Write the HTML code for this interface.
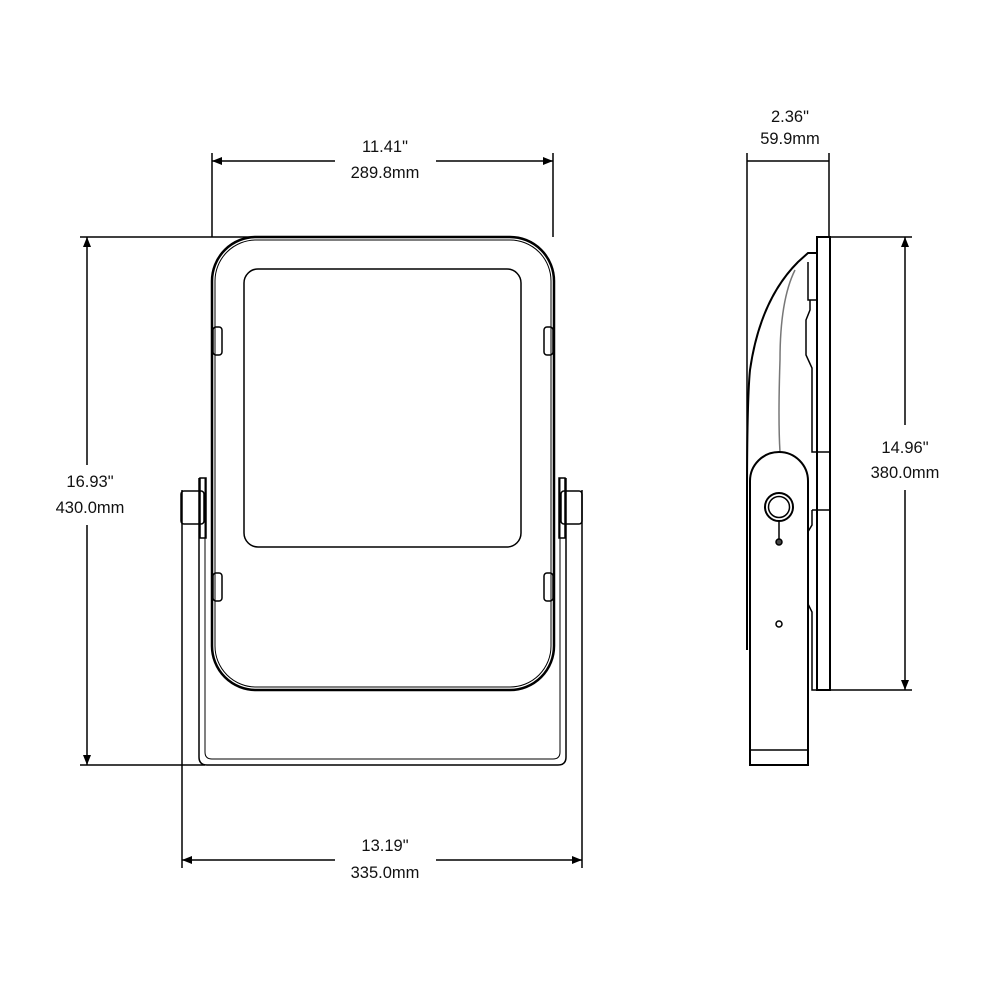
<!DOCTYPE html>
<html><head><meta charset="utf-8"><style>
html,body{margin:0;padding:0;background:#fff}
svg{display:block}
text{font-family:"Liberation Sans",sans-serif;font-size:16.5px;fill:#111;text-anchor:middle}
</style></head><body>
<svg width="992" height="992" viewBox="0 0 992 992" xmlns="http://www.w3.org/2000/svg">
<defs>
<marker id="a" viewBox="0 0 10 8" refX="10" refY="4" markerWidth="10" markerHeight="8" markerUnits="userSpaceOnUse" orient="auto-start-reverse"><path d="M0,0 L10,4 L0,8 z" fill="#000"/></marker>
</defs>
<g stroke="#000" fill="none" stroke-width="1.5">
<!-- front: dimension lines -->
<line x1="212" y1="153" x2="212" y2="237"/>
<line x1="553" y1="153" x2="553" y2="237"/>
<line x1="212" y1="161" x2="335" y2="161" marker-start="url(#a)"/>
<line x1="436" y1="161" x2="553" y2="161" marker-end="url(#a)"/>
<line x1="80" y1="237" x2="255" y2="237"/>
<line x1="80" y1="765" x2="205" y2="765"/>
<line x1="87" y1="237" x2="87" y2="465" marker-start="url(#a)"/>
<line x1="87" y1="525" x2="87" y2="765" marker-end="url(#a)"/>
<line x1="182" y1="490" x2="182" y2="868"/>
<line x1="582" y1="490" x2="582" y2="868"/>
<line x1="182" y1="860" x2="335" y2="860" marker-start="url(#a)"/>
<line x1="436" y1="860" x2="582" y2="860" marker-end="url(#a)"/>
<!-- bracket -->
<path d="M199,478 V757 Q199,765 207,765 H558 Q566,765 566,757 V478"/>
<path d="M205,478 V752 Q205,759 212,759 H553 Q560,759 560,752 V478" stroke-width="1"/>
<rect x="181" y="491" width="23" height="33" rx="3"/>
<rect x="561" y="491" width="21" height="33" rx="3"/>
<rect x="200" y="478" width="6" height="60"/>
<rect x="559" y="478" width="6" height="60"/>
<!-- housing -->
<rect x="212" y="237" width="342" height="453" rx="44" stroke-width="2.5"/>
<rect x="215" y="240" width="336" height="447" rx="41" stroke-width="1"/>
<rect x="244" y="269" width="277" height="278" rx="14" stroke-width="1.5"/>
<rect x="213" y="327" width="9" height="28" rx="3"/>
<rect x="544" y="327" width="9" height="28" rx="3"/>
<rect x="213" y="573" width="9" height="28" rx="3"/>
<rect x="544" y="573" width="9" height="28" rx="3"/>
<!-- side view dims -->
<line x1="747" y1="153" x2="747" y2="500"/>
<line x1="829" y1="153" x2="829" y2="237"/>
<line x1="747" y1="161" x2="829" y2="161"/>
<line x1="820" y1="237" x2="912" y2="237"/>
<line x1="820" y1="690" x2="912" y2="690"/>
<line x1="905" y1="237" x2="905" y2="425" marker-start="url(#a)"/>
<line x1="905" y1="490" x2="905" y2="690" marker-end="url(#a)"/>
<!-- side body -->
<rect x="817" y="237" width="13" height="453" stroke-width="2"/>
<path d="M817,253 H808 L798,262 Q760,300 750,370 Q747,400 747,500 V650" stroke-width="2"/>
<path d="M795,270 Q780,300 780,360 Q778,420 780,452" stroke="#777"/>
<path d="M808,262 V300 L817,300"/>
<path d="M810,300 V310 L806,320 V355 L812,368 V452 H830 M812,510 H830 M812,510 V525 L806,535 V600 L812,612 V690 H817"/>
<path d="M750,765 V481 A29,29 0 0 1 808,481 V765 Z" stroke-width="2" fill="#fff"/>
<line x1="750" y1="750" x2="808" y2="750"/>
<circle cx="779" cy="507" r="14" stroke-width="2"/>
<circle cx="779" cy="507" r="10.5"/>
<line x1="779" y1="521" x2="779" y2="540"/>
<circle cx="779" cy="542" r="3" fill="#444"/>
<circle cx="779" cy="624" r="3"/>
</g>
<text x="385" y="152">11.41"</text>
<text x="385" y="178">289.8mm</text>
<text x="90" y="487">16.93"</text>
<text x="90" y="513">430.0mm</text>
<text x="385" y="851">13.19"</text>
<text x="385" y="878">335.0mm</text>
<text x="790" y="122">2.36"</text>
<text x="790" y="144">59.9mm</text>
<text x="905" y="453">14.96"</text>
<text x="905" y="478">380.0mm</text>
</svg>
</body></html>
